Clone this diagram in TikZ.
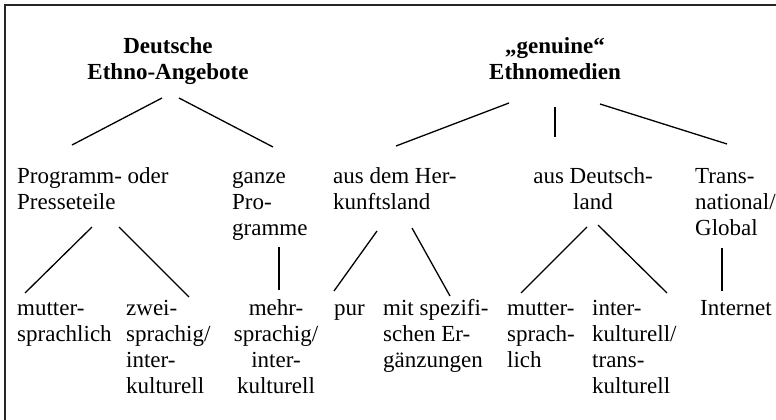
\documentclass[tikz,border=0pt]{standalone}
\usepackage{fontspec}
\setmainfont{Liberation Serif}

\tikzstyle{entry}=[inner sep=0pt,font=\fontsize{23}{26}\selectfont,align=left,anchor=base west]
\tikzstyle{centred}=[entry,align=center,anchor=base]
\tikzstyle{heading}=[centred,font=\fontsize{23}{26}\selectfont\bfseries]
\tikzstyle{branch}=[draw=black,line width=1.3pt]
\tikzstyle{frame}=[draw=black!85,line width=2pt]

\begin{document}
\begin{tikzpicture}[x=1pt,y=-1pt]

   \useasboundingbox (0,0) rectangle (776,420);

   % Frame (top and left edge only)

   \coordinate (ftl) at (5,5.5);
   \coordinate (ftr) at (776,5.5);
   \coordinate (fbl) at (5,420);
   \draw[frame] (ftr) -- (ftl) -- (fbl);

   % Headings (placed at the baseline of their last line)

   \draw (168,79) node[heading] (dea) {Deutsche\\Ethno-Angebote};
   \draw (555,79) node[heading] (gem) {„genuine“\\Ethnomedien};

   % Second row

   \draw (17,209) node[entry] (pp) {Programm- oder\\Presseteile};
   \draw (232,235) node[entry] (gp) {ganze\\Pro-\\gramme};
   \draw (333,209) node[entry] (ah) {aus dem Her-\\kunftsland};
   \draw (593,209) node[centred] (ad) {aus Deutsch-\\land};
   \draw (695,235) node[entry] (tg) {Trans-\\national/\\Global};

   % Third row

   \draw (17,341) node[entry] (ms1) {mutter-\\sprachlich};
   \draw (126,393) node[entry] (zs) {zwei-\\sprachig/\\inter-\\kulturell};
   \draw (276,393) node[centred] (mh) {mehr-\\sprachig/\\inter-\\kulturell};
   \draw (334,315) node[entry] (pur) {pur};
   \draw (383,367) node[entry] (mse) {mit spezifi-\\schen Er-\\gänzungen};
   \draw (507,367) node[entry] (ms2) {mutter-\\sprach-\\lich};
   \draw (592,393) node[entry] (ik) {inter-\\kulturell/\\trans-\\kulturell};
   \draw (700,315) node[entry] (inet) {Internet};

   % Branch end points

   \coordinate (dea_l) at (162,98);   \coordinate (pp_t) at (72,145);
   \coordinate (dea_r) at (179,98);   \coordinate (gp_t) at (273,147);
   \coordinate (gem_l) at (509,103);  \coordinate (ah_t) at (396,146);
   \coordinate (gem_m) at (555,107);  \coordinate (ad_t) at (555,137);
   \coordinate (gem_r) at (600,104);  \coordinate (tg_t) at (727,144);

   \coordinate (pp_l) at (92,227);    \coordinate (ms1_t) at (25,293);
   \coordinate (pp_r) at (119,227);   \coordinate (zs_t) at (189,297);
   \coordinate (gp_b) at (279,247);   \coordinate (mh_t) at (279,290);
   \coordinate (ah_l) at (377,231);   \coordinate (pur_t) at (334,291);
   \coordinate (ah_r) at (412,228);   \coordinate (mse_t) at (450,296);
   \coordinate (ad_l) at (587,227);   \coordinate (ms2_t) at (521,293);
   \coordinate (ad_r) at (598,225);   \coordinate (ik_t) at (667,293);
   \coordinate (tg_b) at (722,248);   \coordinate (inet_t) at (722,291);

   % Branches

   \draw[branch] (dea_l) -- (pp_t);
   \draw[branch] (dea_r) -- (gp_t);
   \draw[branch] (gem_l) -- (ah_t);
   \draw[branch] (gem_m) -- (ad_t);
   \draw[branch] (gem_r) -- (tg_t);

   \draw[branch] (pp_l) -- (ms1_t);
   \draw[branch] (pp_r) -- (zs_t);
   \draw[branch] (gp_b) -- (mh_t);
   \draw[branch] (ah_l) -- (pur_t);
   \draw[branch] (ah_r) -- (mse_t);
   \draw[branch] (ad_l) -- (ms2_t);
   \draw[branch] (ad_r) -- (ik_t);
   \draw[branch] (tg_b) -- (inet_t);

\end{tikzpicture}
\end{document}
